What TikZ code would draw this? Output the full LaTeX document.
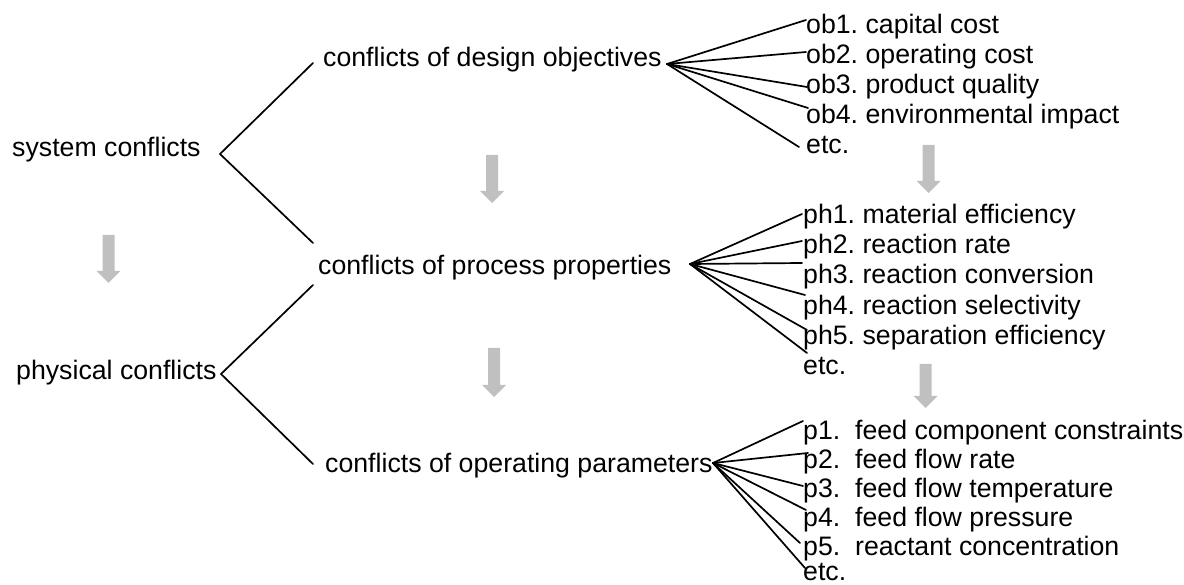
\documentclass[tikz,border=0pt]{standalone}
\usepackage{fontspec}
\setmainfont{Liberation Sans}
\definecolor{arrowgray}{RGB}{192,192,192}
% gray block arrow pointing down: x centre, top, tip
\newcommand\downblock[3]{%
  \fill[arrowgray] (#1-6,#2) -- (#1+6,#2) -- (#1+6,#3-12) -- (#1+12,#3-12)
    -- (#1,#3) -- (#1-12,#3-12) -- (#1-6,#3-12) -- cycle;}
\begin{document}
\frenchspacing
\begin{tikzpicture}[x=1pt,y=-1pt,
  lbl/.style={anchor=base west, inner sep=0pt, font=\fontsize{26.7}{30}\selectfont},
  link/.style={line width=1.7pt, line cap=round}]
\useasboundingbox (0,0) rectangle (1184,585);

% level 1
\node[lbl] (sys)  at (12,157) {system conflicts};
\node[lbl] (phys) at (16,380) {physical conflicts};
% level 2
\node[lbl] (des)  at (323,67)  {conflicts of design objectives};
\node[lbl] (proc) at (318,275) {conflicts of process properties};
\node[lbl] (oper) at (325,472) {conflicts of operating parameters};

% objectives
\node[lbl] (ob1) at (806,33.5)  {ob1. capital cost};
\node[lbl] (ob2) at (806,63.5)  {ob2. operating cost};
\node[lbl] (ob3) at (806,93.5)  {ob3. product quality};
\node[lbl] (ob4) at (806,123.5) {ob4. environmental impact};
\node[lbl] (ob5) at (806,153.5) {etc.};
% properties
\node[lbl] (ph1) at (803,224) {ph1. material efficiency};
\node[lbl] (ph2) at (803,254) {ph2. reaction rate};
\node[lbl] (ph3) at (803,284) {ph3. reaction conversion};
\node[lbl] (ph4) at (803,315) {ph4. reaction selectivity};
\node[lbl] (ph5) at (803,345) {ph5. separation efficiency};
\node[lbl] (ph6) at (803,375) {etc.};
% parameters
\node[lbl] (p1) at (803,439) {p1.~~feed component constraints};
\node[lbl] (p2) at (803,468) {p2.~~feed flow rate};
\node[lbl] (p3) at (803,497) {p3.~~feed flow temperature};
\node[lbl] (p4) at (803,526) {p4.~~feed flow pressure};
\node[lbl] (p5) at (803,555) {p5.~~reactant concentration};
\node[lbl] (p6) at (803,580) {etc.};

% bracket vertices and ends
\coordinate (sysv)  at (220,154);
\coordinate (sysA)  at (313,63);
\coordinate (sysB)  at (313,243);
\coordinate (physv) at (221,374);
\coordinate (physA) at (313,285);
\coordinate (physB) at (313,464);
\draw[link] (sysA) -- (sysv) -- (sysB);
\draw[link] (physA) -- (physv) -- (physB);

% fan of objectives
\coordinate (desv) at (667,64);
\coordinate (e1) at (806,20);
\coordinate (e2) at (806,52);
\coordinate (e3) at (807,87);
\coordinate (e4) at (808,108);
\coordinate (e5) at (799,147);
\foreach \k in {1,...,5} \draw[link] (desv) -- (e\k);

% fan of properties
\coordinate (procv) at (690,264);
\coordinate (f1) at (802,214);
\coordinate (f2) at (802,241);
\coordinate (f3) at (802,263);
\coordinate (f4) at (805,295);
\coordinate (f5) at (807,330);
\coordinate (f6) at (807,353);
\foreach \k in {1,...,6} \draw[link] (procv) -- (f\k);

% fan of parameters
\coordinate (operv) at (713,463);
\coordinate (g1) at (803,421);
\coordinate (g2) at (808,453);
\coordinate (g3) at (803,486);
\coordinate (g4) at (806,510);
\coordinate (g5) at (800,543);
\coordinate (g6) at (805,568);
\foreach \k in {1,...,6} \draw[link] (operv) -- (g\k);

% gray flow arrows
\downblock{108.5}{235}{283}
\downblock{492}{155}{203}
\downblock{494}{348}{397}
\downblock{928.5}{145}{193}
\downblock{925.5}{364}{408}
\end{tikzpicture}
\end{document}
